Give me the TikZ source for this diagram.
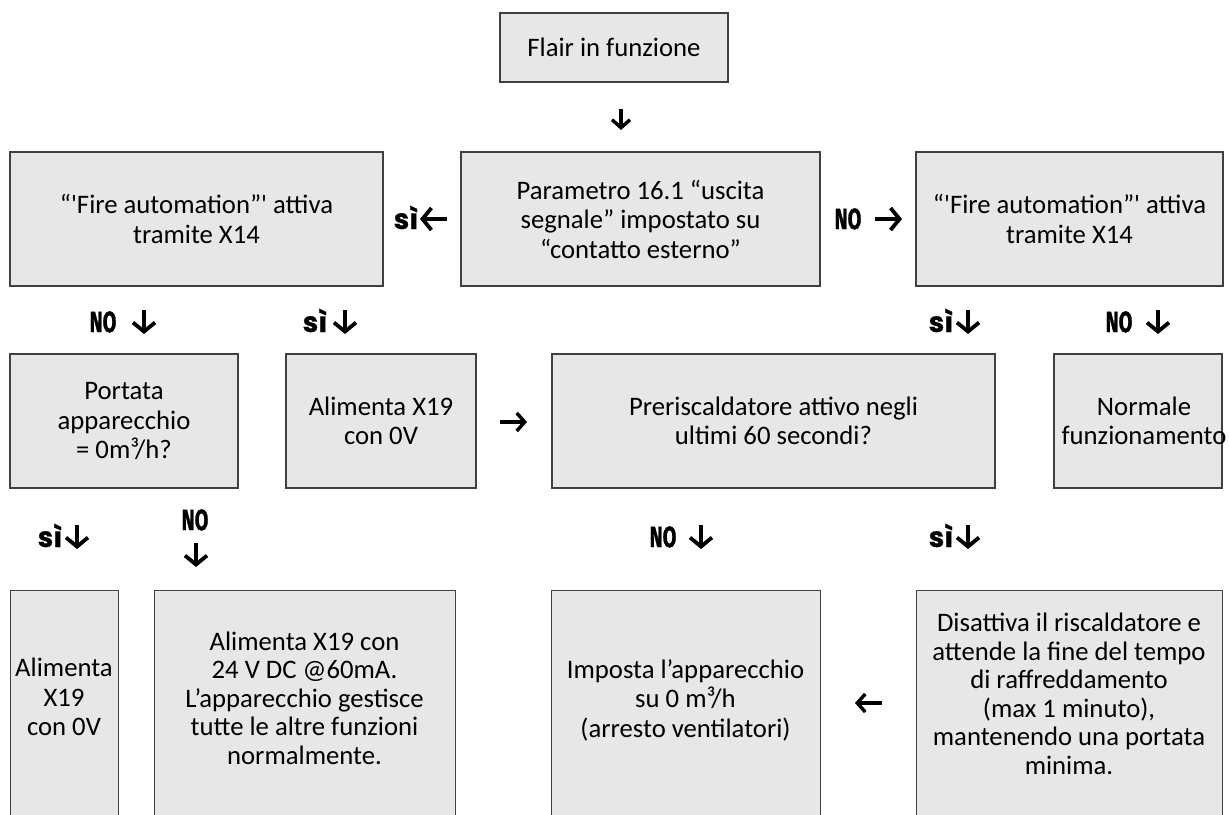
\documentclass[tikz,border=0pt]{standalone}
\usepackage{fontspec}
\usepackage{graphicx}
\setmainfont{Carlito}
\newfontfamily\nofont{Fira Sans}[BoldFeatures={FakeBold=1.5}]
\newfontfamily\sifont{Poppins}[BoldFeatures={FakeBold=0.8}]
\usetikzlibrary{arrows.meta}
\definecolor{boxfill}{HTML}{E7E7E7}
\definecolor{boxline}{HTML}{404040}
\tikzset{
  box/.style={draw=boxline, fill=boxfill, line width=1.3pt, inner sep=0pt, align=center},
  txt/.style={inner sep=0pt, align=center},
  nolab/.style={inner sep=0pt, anchor=base, font=\fontsize{29}{30}\selectfont\nofont\bfseries},
  silab/.style={inner sep=0pt, anchor=base, font=\fontsize{28}{30}\selectfont\sifont\bfseries},
  garrow/.style={line width=3.8pt, -{Straight Barb[length=9pt,width=22pt]}},
  tarrow/.style={line width=3.4pt, -{Straight Barb[length=8pt,width=18pt]}}
}
\newcommand{\nolbl}{\scalebox{0.68}[1]{NO}}
\begin{document}
\begin{tikzpicture}[x=1pt, y=-1pt, font=\fontsize{26.7}{29.5}\selectfont]
\useasboundingbox (0,0) rectangle (1229,814);
\clip (0,0) rectangle (1229,814);

% ---- row 1 & 2
\node[box, minimum width=228pt, minimum height=69pt] (flair) at (614,47.5) {Flair in funzione};
\node[box, minimum width=373pt, minimum height=134pt] (fireL) at (196.5,219)
  {“\textquotesingle Fire automation”\textquotesingle{} attiva\\tramite X14};
\node[box, minimum width=359pt, minimum height=134pt] (param) at (640.5,219)
  {Parametro 16.1 “uscita\\segnale” impostato su\\“contatto esterno”};
\node[box, minimum width=307pt, minimum height=134pt] (fireR) at (1069.5,219)
  {“\textquotesingle Fire automation”\textquotesingle{} attiva\\tramite X14};

% ---- row 3
\node[box, minimum width=228pt, minimum height=134pt] (portata) at (124,421)
  {Portata\\apparecchio\\= 0m³/h?};
\node[box, minimum width=190pt, minimum height=134pt] (alim) at (381,421)
  {Alimenta X19\\con 0V};
\node[box, minimum width=443pt, minimum height=134pt] (preri) at (773.5,421)
  {Preriscaldatore attivo negli\\ultimi 60 secondi?};
\node[box, minimum width=168pt, minimum height=134pt] (normale) at (1138,421) {};
\node[txt] (normalet) at (1144,421) {Normale\\funzionamento};

% ---- row 5 (boxes run past the lower edge)
\node[box, anchor=north west, minimum width=108pt, minimum height=250pt] (b1) at (10,590) {};
\node[box, anchor=north west, minimum width=301pt, minimum height=250pt] (b2) at (154,590) {};
\node[box, anchor=north west, minimum width=269pt, minimum height=250pt] (b3) at (551,590) {};
\node[box, anchor=north west, minimum width=306pt, minimum height=250pt] (b4) at (916,590) {};
\node[txt] (b1t) at (64,697) {Alimenta\\X19\\con 0V};
\node[txt, font=\fontsize{26.7}{28.5}\selectfont] (b2t) at (304.5,698) {Alimenta X19 con\\24 V DC @60mA.\\L’apparecchio gestisce\\tutte le altre funzioni\\normalmente.};
\node[txt] (b3t) at (685.5,700) {Imposta l’apparecchio\\su 0 m³/h\\(arresto ventilatori)};
\node[txt, font=\fontsize{26.7}{28.5}\selectfont] (b4t) at (1069,694) {Disattiva il riscaldatore e\\attende la fine del tempo\\di raffreddamento\\(max 1 minuto),\\mantenendo una portata\\minima.};

% ---- text-size arrows
\coordinate (t1s) at (621,109); \coordinate (t1e) at (621,130);
\draw[tarrow] (t1s) -- (t1e);
\coordinate (t2s) at (500,422); \coordinate (t2e) at (527,422);
\draw[tarrow] (t2s) -- (t2e);
\coordinate (t3s) at (882,703); \coordinate (t3e) at (855,703);
\draw[tarrow] (t3s) -- (t3e);

% ---- labels row 2
\node[silab] (lsi1) at (406,229) {sì};
\coordinate (g1s) at (447,219); \coordinate (g1e) at (420,219);
\draw[garrow] (g1s) -- (g1e);
\node[nolab] (lno1) at (848,229) {\nolbl};
\coordinate (g2s) at (875,219); \coordinate (g2e) at (902,219);
\draw[garrow] (g2s) -- (g2e);

% ---- labels row 3
\node[nolab] (lno2) at (103,332) {\nolbl};
\coordinate (g3s) at (144,310); \coordinate (g3e) at (144,334);
\draw[garrow] (g3s) -- (g3e);
\node[silab] (lsi2) at (315,332) {sì};
\coordinate (g4s) at (345,310); \coordinate (g4e) at (345,334);
\draw[garrow] (g4s) -- (g4e);
\node[silab] (lsi3) at (941,332) {sì};
\coordinate (g5s) at (968,310); \coordinate (g5e) at (968,334);
\draw[garrow] (g5s) -- (g5e);
\node[nolab] (lno3) at (1119,332) {\nolbl};
\coordinate (g6s) at (1158,310); \coordinate (g6e) at (1158,334);
\draw[garrow] (g6s) -- (g6e);

% ---- labels row 4
\node[silab] (lsi4) at (50,547) {sì};
\coordinate (g7s) at (77,525); \coordinate (g7e) at (77,549);
\draw[garrow] (g7s) -- (g7e);
\node[nolab] (lno4) at (195,530) {\nolbl};
\coordinate (g8s) at (196,543); \coordinate (g8e) at (196,567);
\draw[garrow] (g8s) -- (g8e);
\node[nolab] (lno5) at (663,547) {\nolbl};
\coordinate (g9s) at (701,525); \coordinate (g9e) at (701,549);
\draw[garrow] (g9s) -- (g9e);
\node[silab] (lsi5) at (941,547) {sì};
\coordinate (g10s) at (968,525); \coordinate (g10e) at (968,549);
\draw[garrow] (g10s) -- (g10e);
\end{tikzpicture}
\end{document}
